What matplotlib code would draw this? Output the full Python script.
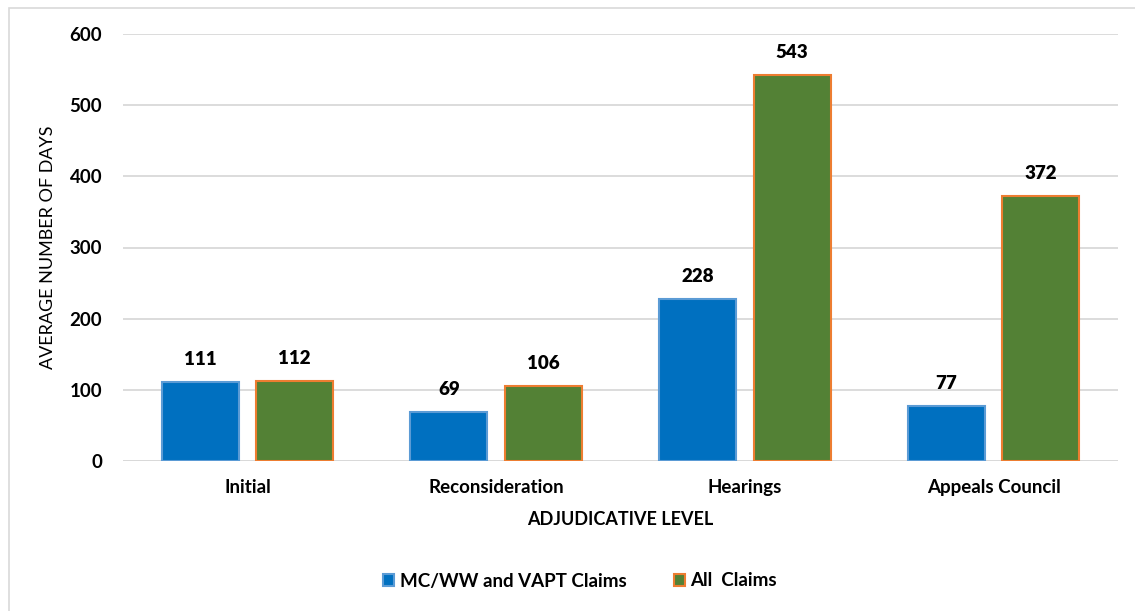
import matplotlib
matplotlib.use("Agg")
import matplotlib.pyplot as plt
import numpy as np
from matplotlib.patches import Rectangle

categories = ["Initial", "Reconsideration", "Hearings", "Appeals Council"]
series_names = ["MC/WW and VAPT Claims", "All  Claims"]
mcww = [111, 69, 228, 77]
all_claims = [112, 106, 543, 372]
yticks = [0, 100, 200, 300, 400, 500, 600]

plt.rcParams['font.family'] = ['Lato', 'DejaVu Sans']

fig = plt.figure(figsize=(11.35, 6.11), dpi=100)
W, H = 1135, 611
ax = fig.add_axes([123 / W, 1 - 461 / H, (1118 - 123) / W, (461 - 34) / H])

fig.patches.append(Rectangle((9 / W, -0.01), 1.02, 1 - 8 / H + 0.01, transform=fig.transFigure,
                             fill=False, edgecolor="#d9d9d9", linewidth=1.2))

x = np.arange(len(categories))
off = 0.19
w = 0.31
b1 = ax.bar(x - off, mcww, w, color="#0070C0", edgecolor="#5B9BD5", linewidth=1.5,
            label=series_names[0], zorder=3)
b2 = ax.bar(x + off, all_claims, w, color="#538135", edgecolor="#ED7D31", linewidth=1.5,
            label=series_names[1], zorder=3)

FS = 13.5
for bars, vals in ((b1, mcww), (b2, all_claims)):
    for r, v in zip(bars, vals):
        ax.annotate(f"{v}", (r.get_x() + r.get_width() / 2, v), xytext=(0, 10),
                    textcoords="offset points", ha="center", va="bottom",
                    fontsize=FS, fontweight="heavy", color="#000000")

ax.set_xlim(-0.5, len(categories) - 0.5)
ax.set_ylim(0, 600)
ax.set_yticks(yticks)
ax.set_yticklabels([str(t) for t in yticks], fontsize=FS, fontweight="bold")
ax.set_xticks(x)
ax.set_xticklabels(categories, fontsize=FS, fontweight="bold")
ax.tick_params(axis="both", length=0)
ax.tick_params(axis="y", pad=15)
ax.tick_params(axis="x", pad=13)
ax.yaxis.grid(True, color="#d9d9d9", linewidth=1.3, zorder=0)
ax.set_axisbelow(True)
for s in ax.spines.values():
    s.set_visible(False)
ax.axhline(0, color="#d9d9d9", linewidth=1.3, zorder=1)

ax.set_xlabel("ADJUDICATIVE LEVEL", fontsize=13, fontweight="bold", labelpad=11)
ax.set_ylabel("AVERAGE NUMBER OF DAYS", fontsize=13, labelpad=10)

leg = fig.legend(handles=[b1, b2], labels=series_names, loc="center",
                 bbox_to_anchor=(580 / W, 1 - 581 / H), ncol=2, frameon=False,
                 prop={"size": FS, "weight": "bold"}, handlelength=0.6, handleheight=0.6,
                 handletextpad=0.3, columnspacing=2.5)

fig.savefig("out.png", dpi=100)
